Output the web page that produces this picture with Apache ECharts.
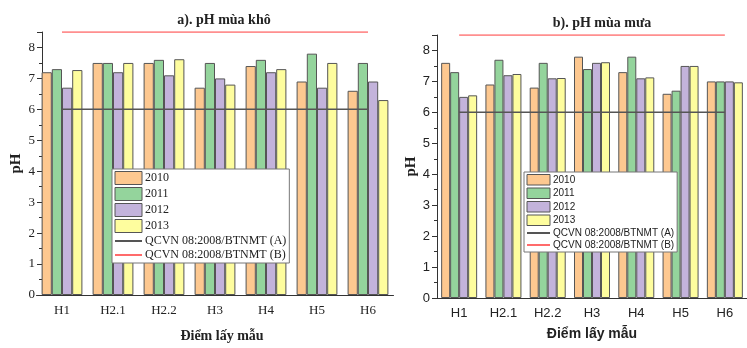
<!DOCTYPE html>
<html>
<head>
<meta charset="utf-8">
<script src="https://cdn.jsdelivr.net/npm/echarts@6/dist/echarts.min.js"></script>
<style>
  html, body { margin: 0; padding: 0; background: #fff; }
  #main { width: 747px; height: 348px; }
</style>
</head>
<body>
<div id="main"></div>
<script>
// điểm lấy mẫu
var sites = ['H1', 'H2.1', 'H2.2', 'H3', 'H4', 'H5', 'H6'];
var years = ['2010', '2011', '2012', '2013'];
var yearColors = ['#FDC890', '#94D49C', '#C3B3DB', '#FEFD9E'];
var nameA = 'QCVN 08:2008/BTNMT (A)';
var nameB = 'QCVN 08:2008/BTNMT (B)';

// a) mùa khô
var dry2010 = [7.2, 7.5, 7.5, 6.7, 7.4, 6.9, 6.6];
var dry2011 = [7.3, 7.5, 7.6, 7.5, 7.6, 7.8, 7.5];
var dry2012 = [6.7, 7.2, 7.1, 7.0, 7.2, 6.7, 6.9];
var dry2013 = [7.27, 7.5, 7.62, 6.8, 7.3, 7.5, 6.3];

// b) mùa mưa
var wet2010 = [7.6, 6.9, 6.8, 7.8, 7.3, 6.6, 7.0];
var wet2011 = [7.3, 7.7, 7.6, 7.4, 7.8, 6.7, 7.0];
var wet2012 = [6.5, 7.2, 7.1, 7.6, 7.1, 7.5, 7.0];
var wet2013 = [6.55, 7.24, 7.11, 7.62, 7.13, 7.5, 6.97];

// giới hạn QCVN
var limitA = [6, 6, 6, 6, 6, 6, 6];
var limitB = [8.5, 8.5, 8.5, 8.5, 8.5, 8.5, 8.5];

var serif = 'Liberation Serif';
var sans = 'Liberation Sans';

function xAxes(gridIdx, font, nameGap, namePad) {
  return [{
    type: 'category', gridIndex: gridIdx, data: sites,
    name: 'Điểm lấy mẫu', nameLocation: 'middle', nameGap: nameGap,
    nameTextStyle: { fontFamily: font, fontWeight: 'bold', fontSize: 14, color: '#222', padding: namePad },
    axisLine: { lineStyle: { color: '#333', width: 1 } },
    axisTick: { alignWithLabel: true, length: 4, lineStyle: { color: '#333' } },
    axisLabel: { fontFamily: font, fontSize: 13, color: '#222', margin: 9 },
    splitLine: { show: false }
  }, {
    type: 'category', gridIndex: gridIdx, data: sites, position: 'bottom',
    axisLine: { show: false },
    axisTick: { length: 2, lineStyle: { color: '#333' } },
    axisLabel: { show: false },
    splitLine: { show: false }
  }];
}

function yAxis(gridIdx, font, offset, nameGap) {
  return {
    type: 'value', gridIndex: gridIdx, min: 0, max: 8.5, interval: 1, offset: offset,
    name: 'pH', nameLocation: 'middle', nameGap: nameGap,
    nameTextStyle: { fontFamily: serif, fontWeight: 'bold', fontSize: 15, color: '#222' },
    axisLine: { show: true, lineStyle: { color: '#333', width: 1 } },
    axisTick: { show: true, length: 5, lineStyle: { color: '#333' } },
    minorTick: { show: true, splitNumber: 2, length: 3, lineStyle: { color: '#333' } },
    axisLabel: {
      fontFamily: font, fontSize: 13, color: '#222', margin: 7,
      formatter: function (v) { return v % 1 === 0 ? v : ''; }
    },
    splitLine: { show: false }
  };
}

function barSeries(name, data, color, xIdx, yIdx, w) {
  return {
    name: name, type: 'bar', xAxisIndex: xIdx, yAxisIndex: yIdx, data: data,
    barWidth: w, barGap: '0%',
    itemStyle: { color: color, borderColor: '#555', borderWidth: 1 }
  };
}

function lineSeries(name, data, color, xIdx, yIdx) {
  return {
    name: name, type: 'line', xAxisIndex: xIdx, yAxisIndex: yIdx, data: data,
    symbol: 'none', z: 5,
    lineStyle: { color: color, width: 1.5 },
    itemStyle: { color: color }
  };
}

var dry = [dry2010, dry2011, dry2012, dry2013];
var wet = [wet2010, wet2011, wet2012, wet2013];
var series = [];
for (var i = 0; i < years.length; i++) {
  series.push(barSeries(years[i], dry[i], yearColors[i], 0, 0, 10.2));
}
series.push(lineSeries(nameA, limitA, '#555', 0, 0));
series.push(lineSeries(nameB, limitB, '#FF6B6B', 0, 0));
for (var j = 0; j < years.length; j++) {
  series.push(barSeries(years[j], wet[j], yearColors[j], 2, 1, 9));
}
series.push(lineSeries(nameA, limitA, '#555', 2, 1));
series.push(lineSeries(nameB, limitB, '#FF6B6B', 2, 1));

// chú thích: ô vuông cho cột, đường không có ký hiệu tròn
var legendData = years.map(function (y) {
  return { name: y, icon: 'rect', itemStyle: { borderWidth: 1, borderColor: '#555' } };
});
legendData.push({ name: nameA, itemStyle: { opacity: 0 } });
legendData.push({ name: nameB, itemStyle: { opacity: 0 } });

var myChart = echarts.init(document.getElementById('main'));
var option = {
  backgroundColor: '#fff',
  animation: false,
  title: [
    { text: 'a). pH mùa khô', left: 219, top: 8, textAlign: 'center',
      textStyle: { fontFamily: serif, fontWeight: 'bold', fontSize: 14, color: '#222' } },
    { text: 'b). pH mùa mưa', left: 597, top: 11, textAlign: 'center',
      textStyle: { fontFamily: serif, fontWeight: 'bold', fontSize: 14, color: '#222' } }
  ],
  legend: [{
    data: legendData, orient: 'vertical', left: 112, top: 169,
    itemWidth: 27, itemHeight: 13, itemGap: 2, padding: [2, 3, 2, 2],
    backgroundColor: '#fff', borderColor: '#777', borderWidth: 1,
    selectedMode: false,
    textStyle: { fontFamily: serif, fontSize: 12, color: '#222', padding: [0, 0, 0, -2] }
  }, {
    data: legendData, orient: 'vertical', left: 524, top: 172,
    itemWidth: 23, itemHeight: 10.5, itemGap: 2, padding: [2, 3, 2, 2],
    backgroundColor: '#fff', borderColor: '#777', borderWidth: 1,
    selectedMode: false,
    textStyle: { fontFamily: sans, fontSize: 10, color: '#222', padding: [0, 0, 0, -2] }
  }],
  grid: [
    { left: 36.5, top: 32, width: 357, height: 270 },
    { left: 437, top: 35, width: 322, height: 263 }
  ],
  xAxis: xAxes(0, serif, 34, [0, 0, 0, 14]).concat(xAxes(1, sans, 29, [0, 0, 0, 0])),
  yAxis: [yAxis(0, serif, -5.5, 18), yAxis(1, sans, 0, 18)],
  series: series
};
myChart.setOption(option);
</script>
</body>
</html>
